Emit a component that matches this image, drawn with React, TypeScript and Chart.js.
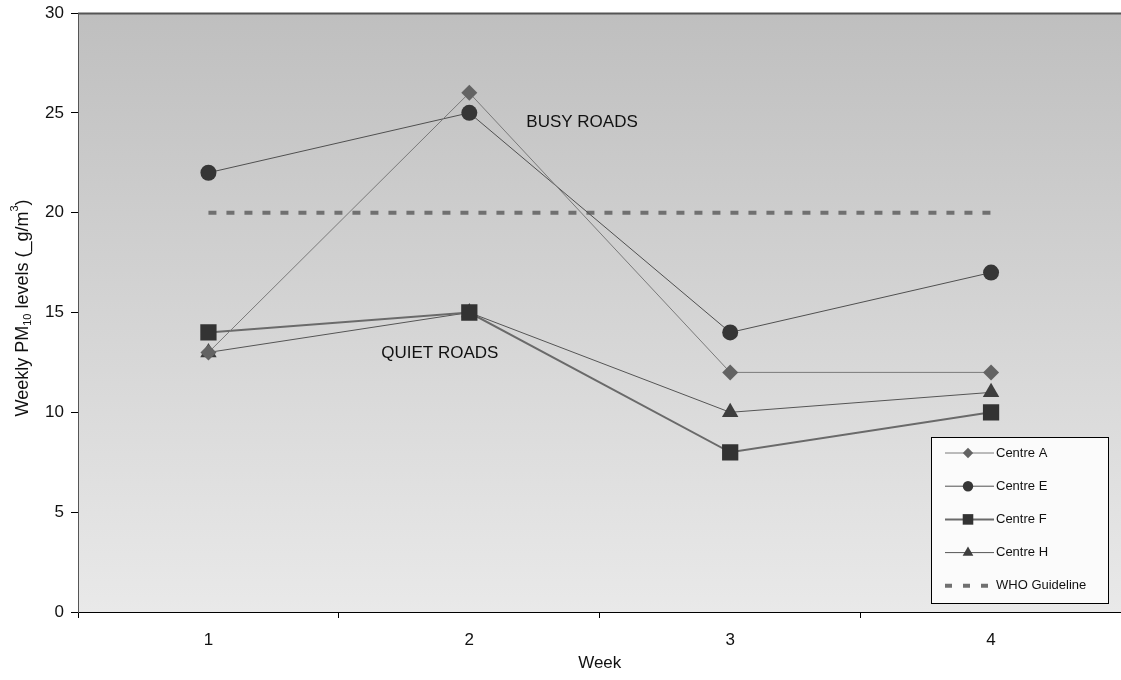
import React, { useEffect, useRef } from "react";
import { Chart, registerables } from "chart.js";

Chart.register(...registerables);

const weeks = ["1", "2", "3", "4"];
const centreA = [13, 26, 12, 12];
const centreE = [22, 25, 14, 17];
const centreF = [14, 15, 8, 10];
const centreH = [13, 15, 10, 11];
const whoGuideline = [20, 20, 20, 20];
const yTicks = [0, 5, 10, 15, 20, 25, 30];

const FONT = "'Liberation Sans', Arial, sans-serif";
const CANVAS_W = 1133;

function drawMarker(ctx: CanvasRenderingContext2D, style: string, x: number, y: number, r: number) {
  ctx.beginPath();
  if (style === "circle") {
    ctx.arc(x, y, r, 0, Math.PI * 2);
  } else if (style === "rect") {
    const s = r * Math.SQRT1_2;
    ctx.rect(x - s, y - s, 2 * s, 2 * s);
  } else if (style === "rectRot") {
    ctx.moveTo(x - r, y);
    ctx.lineTo(x, y - r);
    ctx.lineTo(x + r, y);
    ctx.lineTo(x, y + r);
    ctx.closePath();
  } else if (style === "triangle") {
    ctx.moveTo(x, y - r);
    ctx.lineTo(x + r * 0.866, y + r * 0.5);
    ctx.lineTo(x - r * 0.866, y + r * 0.5);
    ctx.closePath();
  }
  ctx.fill();
}

const decorPlugin = {
  id: "decor",
  beforeDraw(chart: any) {
    const { ctx, chartArea } = chart;
    const { left, top, right, bottom } = chartArea;
    const g = ctx.createLinearGradient(0, top, 0, bottom);
    g.addColorStop(0, "#bfbfbf");
    g.addColorStop(1, "#e9e9e9");
    ctx.save();
    ctx.fillStyle = g;
    ctx.fillRect(left, top, right - left, bottom - top);
    ctx.restore();
  },
  afterDatasetsDraw(chart: any) {
    const { ctx, chartArea, scales } = chart;
    const x = scales.x;
    const y = scales.y;
    ctx.save();
    // top border
    ctx.strokeStyle = "#555555";
    ctx.lineWidth = 2;
    ctx.beginPath();
    ctx.moveTo(chartArea.left, chartArea.top + 0.5);
    ctx.lineTo(chartArea.right, chartArea.top + 0.5);
    ctx.stroke();

    // annotations
    ctx.fillStyle = "#111111";
    ctx.font = `17px ${FONT}`;
    ctx.textBaseline = "middle";
    ctx.textAlign = "left";
    ctx.fillText("BUSY ROADS", x.getPixelForValue(1) + 57, y.getPixelForValue(24.55));
    ctx.fillText("QUIET ROADS", x.getPixelForValue(1) - 88, y.getPixelForValue(12.95));

    // y title
    ctx.save();
    ctx.translate(23, 308);
    ctx.rotate(-Math.PI / 2);
    const parts: [string, number, number][] = [
      ["Weekly PM", 18, 0],
      ["10", 11, 5],
      [" levels (_g/m", 18, 0],
      ["3", 11, -8],
      [")", 18, 0],
    ];
    let total = 0;
    for (const [t, s] of parts) {
      ctx.font = `${s}px ${FONT}`;
      total += ctx.measureText(t).width;
    }
    let cx = -total / 2;
    ctx.textAlign = "left";
    ctx.textBaseline = "middle";
    ctx.fillStyle = "#111111";
    for (const [t, s, dy] of parts) {
      ctx.font = `${s}px ${FONT}`;
      ctx.fillText(t, cx, dy);
      cx += ctx.measureText(t).width;
    }
    ctx.restore();

    // x title
    ctx.font = `17px ${FONT}`;
    ctx.textAlign = "center";
    ctx.textBaseline = "middle";
    ctx.fillStyle = "#111111";
    ctx.fillText("Week", (chartArea.left + chartArea.right) / 2, 663);

    // legend
    const lx = 931, ly = 437, lw = 177, lh = 166;
    ctx.fillStyle = "#fbfbfb";
    ctx.fillRect(lx, ly, lw, lh);
    ctx.strokeStyle = "#000000";
    ctx.lineWidth = 1;
    ctx.strokeRect(lx + 0.5, ly + 0.5, lw, lh);
    const ds = chart.data.datasets;
    ds.forEach((d: any, i: number) => {
      const yy = 453 + i * 33.2;
      ctx.save();
      ctx.strokeStyle = d.borderColor;
      ctx.lineWidth = d.borderWidth;
      let x1 = 994;
      if (d.borderDash && d.borderDash.length) {
        ctx.setLineDash([7, 11]);
        x1 = 988;
      }
      ctx.beginPath();
      ctx.moveTo(945, yy);
      ctx.lineTo(x1, yy);
      ctx.stroke();
      ctx.restore();
      if (d.pointStyle && d.pointRadius > 0) {
        ctx.save();
        ctx.fillStyle = d.pointBackgroundColor;
        drawMarker(ctx, d.pointStyle, 968, yy, d.pointRadius * 0.65);
        ctx.restore();
      }
      ctx.fillStyle = "#111111";
      ctx.font = `13px ${FONT}`;
      ctx.textAlign = "left";
      ctx.textBaseline = "middle";
      ctx.fillText(d.label, 996, yy);
    });
    ctx.restore();
  },
};

export default function App() {
  const ref = useRef<HTMLCanvasElement | null>(null);
  useEffect(() => {
    document.body.style.margin = "0";
    const canvas = ref.current!;
    const chart = new Chart(canvas, {
      type: "line",
      data: {
        labels: weeks,
        datasets: [
          {
            label: "Centre A",
            data: centreA,
            borderColor: "#7a7a7a",
            borderWidth: 1,
            pointStyle: "rectRot",
            pointRadius: 8,
            pointBackgroundColor: "#636363",
            pointBorderColor: "#636363",
            pointBorderWidth: 0,
          },
          {
            label: "Centre E",
            data: centreE,
            borderColor: "#505050",
            borderWidth: 1,
            pointStyle: "circle",
            pointRadius: 8,
            pointBackgroundColor: "#363636",
            pointBorderColor: "#363636",
            pointBorderWidth: 0,
          },
          {
            label: "Centre F",
            data: centreF,
            borderColor: "#6a6a6a",
            borderWidth: 2,
            pointStyle: "rect",
            pointRadius: 11.5,
            pointBackgroundColor: "#333333",
            pointBorderColor: "#333333",
            pointBorderWidth: 0,
          },
          {
            label: "Centre H",
            data: centreH,
            borderColor: "#555555",
            borderWidth: 1,
            pointStyle: "triangle",
            pointRadius: 9.5,
            pointBackgroundColor: "#3e3e3e",
            pointBorderColor: "#3e3e3e",
            pointBorderWidth: 0,
          },
          {
            label: "WHO Guideline",
            data: whoGuideline,
            borderColor: "#707070",
            borderWidth: 4,
            borderDash: [8, 10],
            pointRadius: 0,
            pointStyle: false as any,
          },
        ],
      },
      options: {
        animation: false,
        responsive: false,
        maintainAspectRatio: false,
        layout: { padding: { top: 13, left: 0, right: 0, bottom: 0 } },
        plugins: { legend: { display: false }, tooltip: { enabled: false } },
        scales: {
          x: {
            type: "category",
            offset: true,
            grid: { display: true, drawOnChartArea: false, offset: true, tickLength: 6, color: "#000000" },
            border: { display: true, color: "#000000", width: 1 },
            ticks: { color: "#111111", font: { family: FONT, size: 17 }, padding: 12, maxRotation: 0 },
            afterFit: (s: any) => {
              s.height = 68;
              s.paddingLeft = 0;
              s.paddingRight = 0;
            },
          },
          y: {
            min: 0,
            max: 30,
            afterBuildTicks: (s: any) => { s.ticks = yTicks.map((v) => ({ value: v })); },
            grid: { display: true, drawOnChartArea: false, tickLength: 7, color: "#000000" },
            border: { display: true, color: "#555555", width: 1 },
            ticks: { color: "#111111", font: { family: FONT, size: 17 }, padding: 7 },
            afterFit: (s: any) => {
              s.width = 78;
              s.paddingTop = 0;
              s.paddingBottom = 0;
            },
          },
        },
      },
      plugins: [decorPlugin],
    });
    return () => chart.destroy();
  }, []);
  return (
    <div style={{ position: "fixed", left: 0, top: 0, width: 1121, height: 680, background: "#fff", overflow: "hidden" }}>
      <canvas ref={ref} width={CANVAS_W} height={680} style={{ width: CANVAS_W, height: 680, display: "block" }} />
    </div>
  );
}
